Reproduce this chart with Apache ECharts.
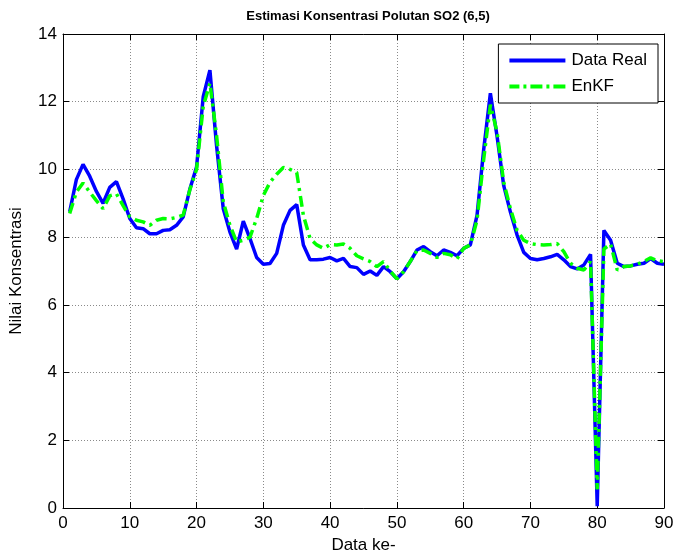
<!DOCTYPE html>
<html>
<head>
<meta charset="utf-8">
<script src="https://cdn.jsdelivr.net/npm/echarts@6/dist/echarts.min.js"></script>
<style>
  html, body { margin: 0; padding: 0; background: #ffffff; }
  #chart { width: 678px; height: 559px; }
</style>
</head>
<body>
<div id="chart"></div>
<script>
// Sample index (1..90)
const dataIndex = [];
for (let i = 1; i <= 90; i++) dataIndex.push(i);

// Measured SO2 concentration
const dataReal = [
  8.75, 9.7, 10.15, 9.8, 9.35, 9.0, 9.47, 9.64, 9.13, 8.55,
  8.28, 8.25, 8.1, 8.1, 8.2, 8.22, 8.35, 8.6, 9.42, 10.07,
  12.15, 12.93, 10.7, 8.84, 8.15, 7.65, 8.47, 7.96, 7.4, 7.2,
  7.22, 7.52, 8.35, 8.79, 8.96, 7.77, 7.33, 7.33, 7.35, 7.4,
  7.3, 7.37, 7.13, 7.1, 6.9, 7.0, 6.87, 7.13, 6.98, 6.77,
  6.98, 7.28, 7.62, 7.72, 7.57, 7.45, 7.62, 7.55, 7.45, 7.67,
  7.77, 8.64, 10.59, 12.25, 10.98, 9.52, 8.74, 8.06, 7.55, 7.37,
  7.33, 7.37, 7.42, 7.49, 7.33, 7.13, 7.06, 7.18, 7.49, 0.05,
  8.2, 7.91, 7.23, 7.13, 7.15, 7.2, 7.23, 7.37, 7.23, 7.2
];

// Ensemble Kalman Filter estimate
const dataEnKF = [
  8.7, 9.33, 9.6, 9.33, 9.08, 8.84, 9.22, 9.28, 8.93, 8.6,
  8.5, 8.45, 8.35, 8.5, 8.55, 8.54, 8.58, 8.65, 9.4, 10.0,
  11.86, 12.55, 11.0, 9.04, 8.35, 7.86, 7.91, 8.0, 8.55, 9.23,
  9.62, 9.86, 10.06, 10.0, 9.91, 8.64, 7.96, 7.77, 7.67, 7.78,
  7.77, 7.8, 7.67, 7.45, 7.36, 7.28, 7.13, 7.28, 7.0, 6.77,
  6.98, 7.28, 7.6, 7.62, 7.52, 7.4, 7.52, 7.48, 7.36, 7.67,
  7.77, 8.5, 10.3, 11.91, 11.1, 9.62, 8.84, 8.2, 7.91, 7.81,
  7.78, 7.77, 7.78, 7.81, 7.57, 7.23, 7.08, 7.03, 7.28, 0.55,
  7.65, 7.8, 7.03, 7.13, 7.15, 7.2, 7.28, 7.39, 7.3, 7.28
];

const xTicks = [0, 10, 20, 30, 40, 50, 60, 70, 80, 90];
const yTicks = [0, 2, 4, 6, 8, 10, 12, 14];

const font = 'Liberation Sans, Arial, sans-serif';
const pairs = (ys) => ys.map((v, i) => [dataIndex[i], v]);

// Legend swatches: a solid bar and a dash-dot bar
const solidIcon = 'path://M0,0 L56,0 L56,4 L0,4 Z';
const dashDotIcon = 'path://M0,0 L10,0 L10,4 L0,4 Z M14,0 L17,0 L17,4 L14,4 Z M21,0 L33,0 L33,4 L21,4 Z ' +
  'M37,0 L40,0 L40,4 L37,4 Z M44,0 L56,0 L56,4 L44,4 Z';

const chart = echarts.init(document.getElementById('chart'), null, { renderer: 'canvas' });

const tickLen = 6;
const baseX = {
  type: 'value', min: xTicks[0], max: xTicks[xTicks.length - 1], interval: 10,
  axisLine: { show: true, onZero: false, lineStyle: { color: '#000', width: 1 } },
  axisTick: { show: true, inside: true, length: tickLen, lineStyle: { color: '#000' } },
  splitLine: { show: false }
};
const baseY = {
  type: 'value', min: yTicks[0], max: yTicks[yTicks.length - 1], interval: 2,
  axisLine: { show: true, onZero: false, lineStyle: { color: '#000', width: 1 } },
  axisTick: { show: true, inside: true, length: tickLen, lineStyle: { color: '#000' } },
  splitLine: { show: false }
};

chart.setOption({
  animation: false,
  backgroundColor: '#ffffff',
  title: {
    text: 'Estimasi Konsentrasi Polutan SO2 (6,5)',
    left: 363, top: 5, textAlign: 'center',
    textStyle: { fontFamily: font, fontSize: 13, fontWeight: 'bold', color: '#000' }
  },
  legend: {
    right: 20, top: 44,
    orient: 'vertical',
    itemWidth: 56, itemHeight: 4, itemGap: 9,
    padding: [8, 11, 8, 11],
    backgroundColor: '#ffffff',
    borderColor: '#000', borderWidth: 1, borderRadius: 0,
    textStyle: { fontFamily: font, fontSize: 17, color: '#000', padding: [0, 0, 0, 1] },
    data: [
      { name: 'Data Real', icon: solidIcon },
      { name: 'EnKF', icon: dashDotIcon }
    ]
  },
  grid: { left: 62, right: 14, top: 34, bottom: 47, containLabel: false },
  xAxis: [
    Object.assign({}, baseX, {
      position: 'bottom',
      name: 'Data ke-', nameLocation: 'middle', nameGap: 29,
      nameTextStyle: { fontFamily: font, fontSize: 17, color: '#000' },
      axisLabel: { fontFamily: font, fontSize: 17, color: '#000', margin: 7 },
      splitLine: { show: true, lineStyle: { color: '#8a8a8a', type: [1, 2], width: 1 } }
    }),
    Object.assign({}, baseX, { position: 'top', axisLabel: { show: false } })
  ],
  yAxis: [
    Object.assign({}, baseY, {
      position: 'left',
      name: 'Nilai Konsentrasi', nameLocation: 'middle', nameGap: 38,
      nameTextStyle: { fontFamily: font, fontSize: 17, color: '#000' },
      axisLabel: { fontFamily: font, fontSize: 17, color: '#000', margin: 6 },
      splitLine: { show: true, lineStyle: { color: '#8a8a8a', type: [1, 2], width: 1 } }
    }),
    Object.assign({}, baseY, { position: 'right', axisLabel: { show: false } })
  ],
  series: [
    {
      name: 'Data Real', type: 'line', xAxisIndex: 0, yAxisIndex: 0,
      data: pairs(dataReal), symbol: 'none',
      lineStyle: { color: '#0000ff', width: 3.5 },
      itemStyle: { color: '#0000ff' },
      z: 2
    },
    {
      name: 'EnKF', type: 'line', xAxisIndex: 0, yAxisIndex: 0,
      data: pairs(dataEnKF), symbol: 'none',
      lineStyle: { color: '#00ff00', width: 3.5, type: [11, 5, 3, 5] },
      itemStyle: { color: '#00ff00' },
      z: 3
    }
  ]
});
</script>
</body>
</html>
